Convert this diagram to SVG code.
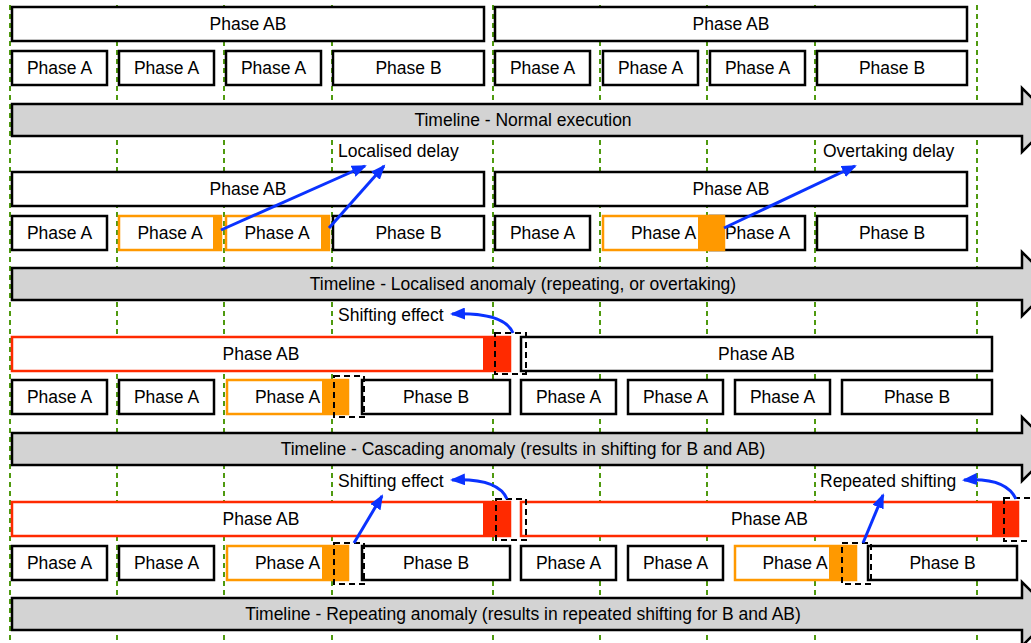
<svg xmlns="http://www.w3.org/2000/svg" width="1031" height="643" viewBox="0 0 1031 643">
<defs>
<style>
text{font-family:"Liberation Sans",Arial,Helvetica,sans-serif;font-size:17.5px;fill:#000}
.c{text-anchor:middle}
.b{fill:#fff;stroke:#000;stroke-width:2.5}
.o{fill:#fff;stroke:#ff9900;stroke-width:2.5}
.of{fill:#ff9900;stroke:none}
.r{fill:#fff;stroke:#ff2a00;stroke-width:2.5}
.rf{fill:#ff2a00;stroke:none}
.d{fill:none;stroke:#000;stroke-width:2;stroke-dasharray:6,4}
.g{stroke:#4f9a0f;stroke-width:2;stroke-dasharray:5,4;fill:none}
.t{fill:#d3d3d3;stroke:#000;stroke-width:2.5;stroke-linejoin:miter}
.a{stroke:#0a32ff;stroke-width:3;fill:none;marker-end:url(#ah)}
</style>
<marker id="ah" markerUnits="userSpaceOnUse" markerWidth="16" markerHeight="12" refX="13" refY="6" orient="auto" viewBox="0 0 16 12">
<path d="M0,0 L15,6 L0,12 z" fill="#0a32ff"/>
</marker>
</defs>

<g id="grid">
<line class="g" x1="10" y1="5" x2="10" y2="643"/>
<line class="g" x1="117" y1="5" x2="117" y2="643"/>
<line class="g" x1="224" y1="5" x2="224" y2="643"/>
<line class="g" x1="332" y1="5" x2="332" y2="643"/>
<line class="g" x1="493" y1="5" x2="493" y2="643"/>
<line class="g" x1="600" y1="5" x2="600" y2="643"/>
<line class="g" x1="707" y1="5" x2="707" y2="643"/>
<line class="g" x1="815" y1="5" x2="815" y2="643"/>
<line class="g" x1="977" y1="5" x2="977" y2="643"/>
</g>

<!-- Section 1 -->
<g id="s1-ab1"><rect class="b" x="12" y="7" width="472" height="34"/><text class="c" x="248" y="30">Phase AB</text></g>
<g id="s1-ab2"><rect class="b" x="495" y="7" width="472" height="34"/><text class="c" x="731" y="30">Phase AB</text></g>
<g id="s1-a1"><rect class="b" x="12" y="51" width="95" height="34"/><text class="c" x="59.5" y="74">Phase A</text></g>
<g id="s1-a2"><rect class="b" x="119" y="51" width="95" height="34"/><text class="c" x="166.5" y="74">Phase A</text></g>
<g id="s1-a3"><rect class="b" x="226" y="51" width="95" height="34"/><text class="c" x="273.5" y="74">Phase A</text></g>
<g id="s1-b1"><rect class="b" x="333" y="51" width="151" height="34"/><text class="c" x="408.5" y="74">Phase B</text></g>
<g id="s1-a4"><rect class="b" x="495" y="51" width="95" height="34"/><text class="c" x="542.5" y="74">Phase A</text></g>
<g id="s1-a5"><rect class="b" x="603" y="51" width="95" height="34"/><text class="c" x="650.5" y="74">Phase A</text></g>
<g id="s1-a6"><rect class="b" x="710" y="51" width="95" height="34"/><text class="c" x="757.5" y="74">Phase A</text></g>
<g id="s1-b2"><rect class="b" x="817" y="51" width="150" height="34"/><text class="c" x="892" y="74">Phase B</text></g>
<g id="s1-timeline"><path class="t" d="M12,104 L1022,104 L1022,88 L1054,120 L1022,152 L1022,136 L12,136 Z"/><text class="c" x="523" y="126">Timeline - Normal execution</text></g>

<!-- Section 2 -->
<g id="s2-ab1"><rect class="b" x="12" y="172" width="472" height="34"/><text class="c" x="248" y="195">Phase AB</text></g>
<g id="s2-ab2"><rect class="b" x="495" y="172" width="472" height="34"/><text class="c" x="731" y="195">Phase AB</text></g>
<g id="s2-a1"><rect class="b" x="12" y="216" width="95" height="34"/><text class="c" x="59.5" y="239">Phase A</text></g>
<g id="s2-a2"><rect class="o" x="119" y="216" width="102" height="34"/><rect class="of" x="213" y="215" width="9" height="36"/><text class="c" x="170" y="239">Phase A</text></g>
<g id="s2-a3"><rect class="o" x="226" y="216" width="103" height="34"/><rect class="of" x="321" y="215" width="9" height="36"/><text class="c" x="277" y="239">Phase A</text></g>
<g id="s2-b1"><rect class="b" x="333" y="216" width="151" height="34"/><text class="c" x="408.5" y="239">Phase B</text></g>
<g id="s2-a4"><rect class="b" x="495" y="216" width="95" height="34"/><text class="c" x="542.5" y="239">Phase A</text></g>
<g id="s2-a6"><rect class="b" x="710" y="216" width="95" height="34"/><text class="c" x="757.5" y="239">Phase A</text></g>
<g id="s2-a5"><rect class="o" x="603" y="216" width="121" height="34"/><rect class="of" x="698" y="215" width="26" height="36"/><text class="c" x="663.5" y="239">Phase A</text></g>
<g id="s2-b2"><rect class="b" x="817" y="216" width="150" height="34"/><text class="c" x="892" y="239">Phase B</text></g>
<g id="s2-timeline"><path class="t" d="M12,268 L1022,268 L1022,252 L1054,284 L1022,316 L1022,300 L12,300 Z"/><text class="c" x="523" y="290">Timeline - Localised anomaly (repeating, or overtaking)</text></g>
<g id="s2-label1"><text x="338" y="157">Localised delay</text></g>
<g id="s2-label2"><text x="823" y="157">Overtaking delay</text></g>

<!-- Section 3 -->
<g id="s3-ab1"><rect class="r" x="12" y="337" width="498" height="34"/><rect class="rf" x="483" y="336" width="28" height="36"/><text class="c" x="261" y="360">Phase AB</text></g>
<g id="s3-ab2"><rect class="b" x="521" y="337" width="471" height="34"/><text class="c" x="756.5" y="360">Phase AB</text></g>
<rect class="d" x="495" y="333" width="31" height="41"/>
<g id="s3-a1"><rect class="b" x="12" y="380" width="95" height="34"/><text class="c" x="59.5" y="403">Phase A</text></g>
<g id="s3-a2"><rect class="b" x="119" y="380" width="95" height="34"/><text class="c" x="166.5" y="403">Phase A</text></g>
<g id="s3-a3"><rect class="o" x="227" y="380" width="121" height="34"/><rect class="of" x="322" y="379" width="27" height="36"/><text class="c" x="287.5" y="403">Phase A</text></g>
<g id="s3-b1"><rect class="b" x="362" y="380" width="148" height="34"/><text class="c" x="436" y="403">Phase B</text></g>
<rect class="d" x="334" y="376" width="30" height="41"/>
<g id="s3-a4"><rect class="b" x="521" y="380" width="95" height="34"/><text class="c" x="568.5" y="403">Phase A</text></g>
<g id="s3-a5"><rect class="b" x="628" y="380" width="95" height="34"/><text class="c" x="675.5" y="403">Phase A</text></g>
<g id="s3-a6"><rect class="b" x="735" y="380" width="95" height="34"/><text class="c" x="782.5" y="403">Phase A</text></g>
<g id="s3-b2"><rect class="b" x="842" y="380" width="150" height="34"/><text class="c" x="917" y="403">Phase B</text></g>
<g id="s3-timeline"><path class="t" d="M12,433 L1022,433 L1022,417 L1054,449 L1022,481 L1022,465 L12,465 Z"/><text class="c" x="523" y="455">Timeline - Cascading anomaly (results in shifting for B and AB)</text></g>
<g id="s3-label"><text x="338" y="321">Shifting effect</text></g>

<!-- Section 4 -->
<g id="s4-ab1"><rect class="r" x="12" y="502" width="498" height="34"/><rect class="rf" x="483" y="501" width="28" height="36"/><text class="c" x="261" y="525">Phase AB</text></g>
<g id="s4-ab2"><rect class="r" x="521" y="502" width="497" height="34"/><rect class="rf" x="992" y="501" width="27" height="36"/><text class="c" x="769.5" y="525">Phase AB</text></g>
<rect class="d" x="496" y="499" width="30" height="41"/>
<rect class="d" x="1004" y="498" width="40" height="43"/>
<g id="s4-a1"><rect class="b" x="12" y="546" width="95" height="34"/><text class="c" x="59.5" y="569">Phase A</text></g>
<g id="s4-a2"><rect class="b" x="119" y="546" width="95" height="34"/><text class="c" x="166.5" y="569">Phase A</text></g>
<g id="s4-a3"><rect class="o" x="227" y="546" width="121" height="34"/><rect class="of" x="322" y="545" width="27" height="36"/><text class="c" x="287.5" y="569">Phase A</text></g>
<g id="s4-b1"><rect class="b" x="362" y="546" width="148" height="34"/><text class="c" x="436" y="569">Phase B</text></g>
<rect class="d" x="334" y="543" width="30" height="41"/>
<g id="s4-a4"><rect class="b" x="521" y="546" width="95" height="34"/><text class="c" x="568.5" y="569">Phase A</text></g>
<g id="s4-a5"><rect class="b" x="628" y="546" width="95" height="34"/><text class="c" x="675.5" y="569">Phase A</text></g>
<g id="s4-a6"><rect class="o" x="735" y="546" width="121" height="34"/><rect class="of" x="829" y="545" width="28" height="36"/><text class="c" x="795" y="569">Phase A</text></g>
<g id="s4-b2"><rect class="b" x="868" y="546" width="149" height="34"/><text class="c" x="942.5" y="569">Phase B</text></g>
<rect class="d" x="842" y="543" width="29" height="41"/>
<g id="s4-timeline"><path class="t" d="M12,598 L1022,598 L1022,582 L1054,614 L1022,646 L1022,630 L12,630 Z"/><text class="c" x="523" y="620">Timeline - Repeating anomaly (results in repeated shifting for B and AB)</text></g>
<g id="s4-label1"><text x="338" y="487">Shifting effect</text></g>
<g id="s4-label2"><text x="820" y="487">Repeated shifting</text></g>

<g id="connectors">
<line class="a" x1="221" y1="230" x2="365" y2="166"/>
<line class="a" x1="329" y1="228" x2="384" y2="166"/>
<line class="a" x1="724" y1="228" x2="855" y2="166"/>
<path class="a" d="M513,333 Q504,312 452,314"/>
<line class="a" x1="354" y1="543" x2="382" y2="496"/>
<line class="a" x1="863" y1="543" x2="883" y2="495"/>
<path class="a" d="M507,499 Q498,478 452,480"/>
<path class="a" d="M1016,499 Q1006,477 964,480"/>
</g>
</svg>
